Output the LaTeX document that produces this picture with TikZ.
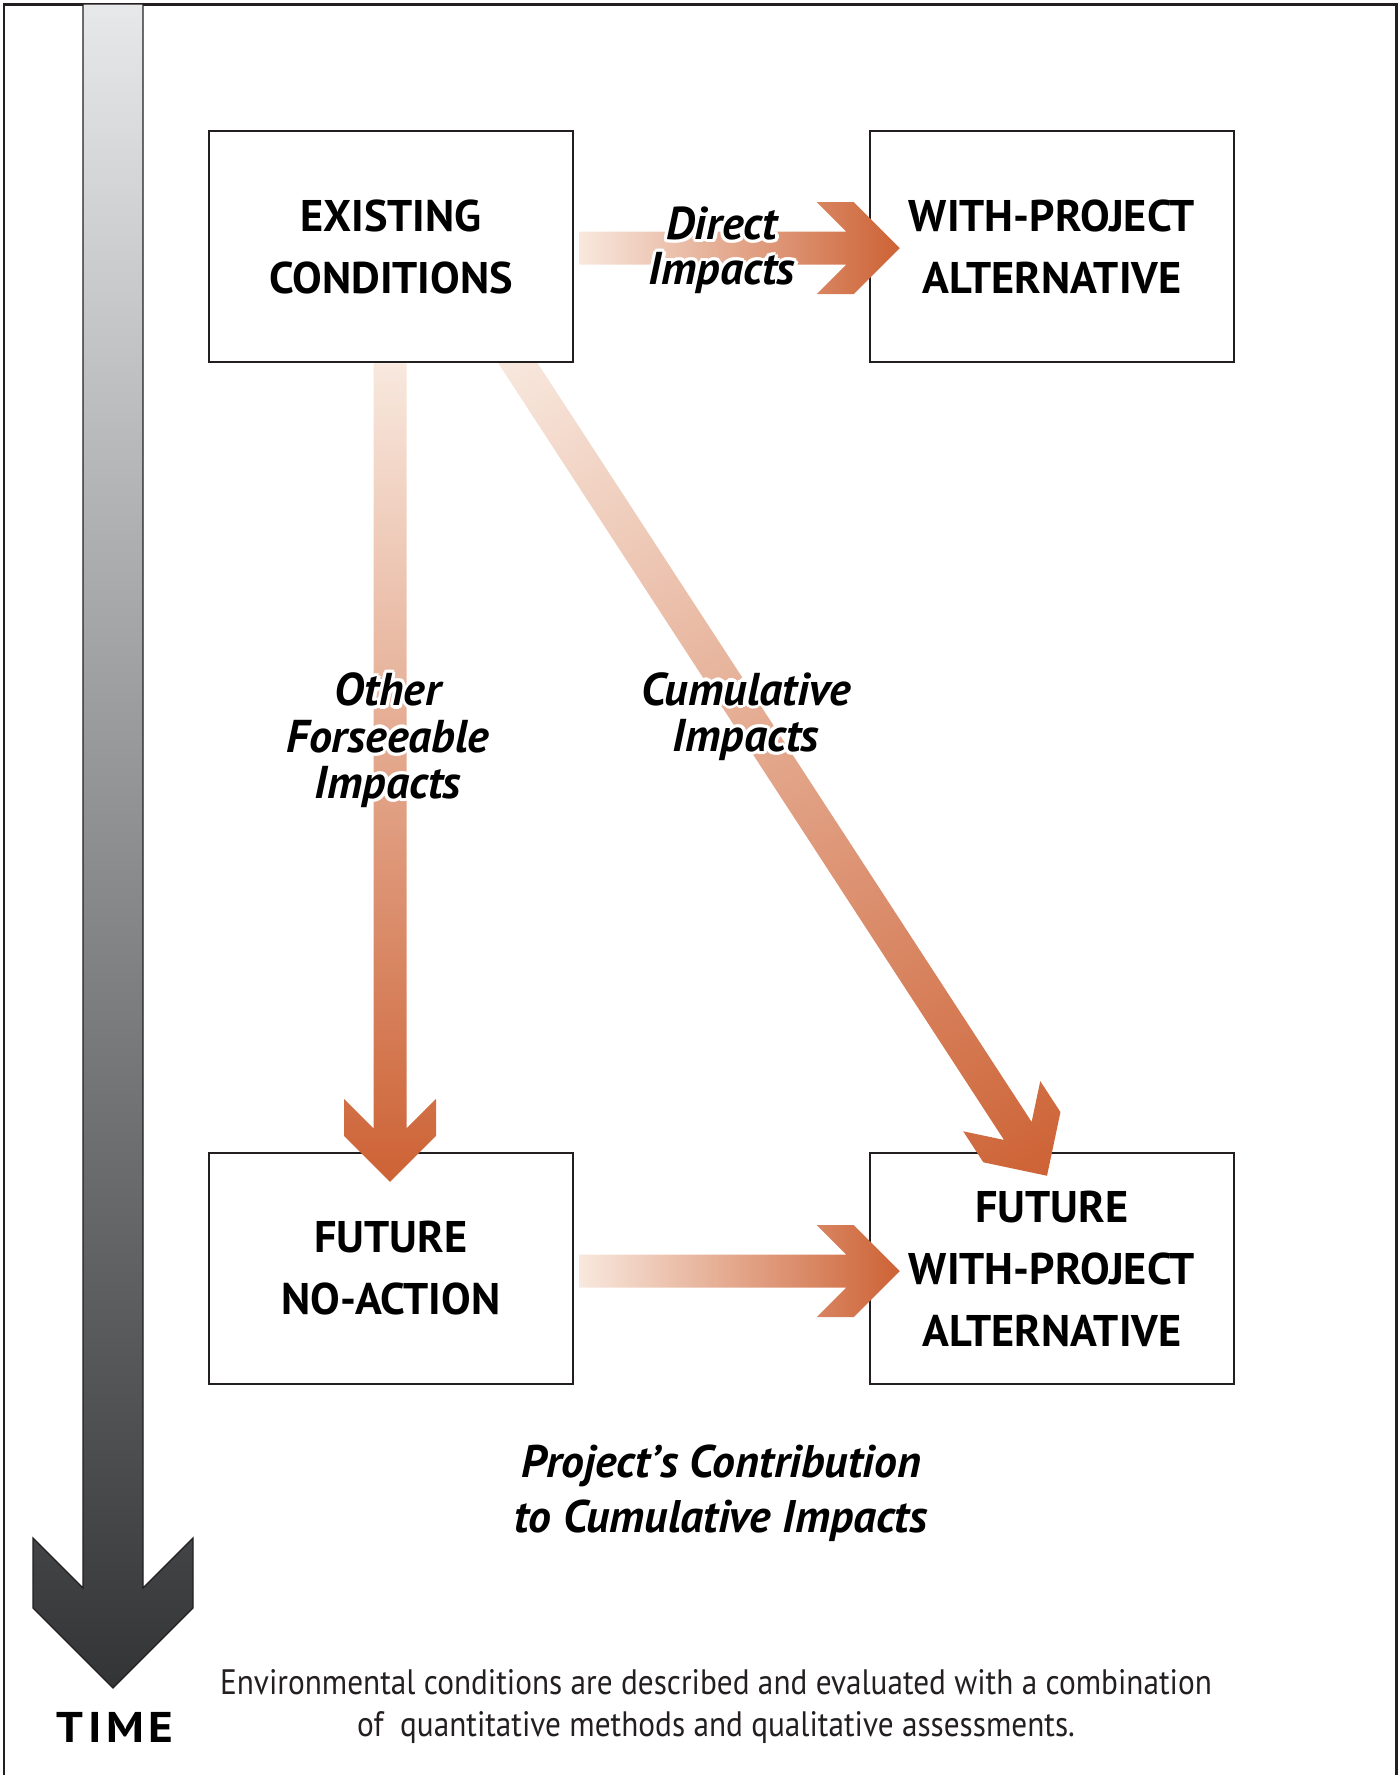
\documentclass[tikz,border=0pt]{standalone}
\usepackage{fontspec}
\setmainfont{PT Sans}
\usepackage[copies]{contour}
\usetikzlibrary{positioning, calc}

\definecolor{inkblack}{HTML}{231F20}
\definecolor{impactpale}{HTML}{F8E8DE}
\definecolor{impactorange}{HTML}{CD6235}
\definecolor{timelight}{HTML}{E6E8EA}
\definecolor{timedark}{HTML}{333436}

\contourlength{1pt}
\contournumber{12}

% fat arrow with a swept-back head, shaded pale -> orange from #1 to #2
\newcommand\impactarrow[2]{%
  \path (#1); \pgfgetlastxy{\ax}{\ay}
  \path (#2); \pgfgetlastxy{\bx}{\by}
  \pgfmathsetmacro\arrang{atan2((\by)-(\ay),(\bx)-(\ax))}
  \pgfmathsetmacro\arrlen{veclen((\bx)-(\ax),(\by)-(\ay))/0.3}
  \begin{scope}[transform canvas={shift={(\ax,\ay)},rotate=\arrang}]
    \shade[left color=impactpale, right color=impactorange]
      (0,-16.5) -- (\arrlen-53.5,-16.5) -- (\arrlen-83,-46) -- (\arrlen-46,-46)
      -- (\arrlen,0) -- (\arrlen-46,46) -- (\arrlen-83,46) -- (\arrlen-53.5,16.5)
      -- (0,16.5) -- cycle;
  \end{scope}}

\begin{document}
\begin{tikzpicture}[x=0.3pt, y=-0.3pt,
    box/.style={draw=inkblack, line width=0.75pt, fill=white,
      minimum width=109.2pt, minimum height=69.3pt, inner sep=0pt,
      align=center, font=\fontsize{13.3}{18.6}\selectfont\bfseries},
    impactlabel/.style={align=center, inner sep=0pt,
      font=\fontsize{13.8}{13.9}\selectfont\bfseries\itshape}]
  \useasboundingbox (0,0) rectangle (1398,1775);

  % frame, open at the bottom
  \draw[inkblack, line width=0.9pt] (4,1775) -- (4,4) -- (1396,4) -- (1396,1775);

  % time axis
  \shade[draw=inkblack, line width=0.4pt, top color=timelight, bottom color=timedark]
    (83,4) -- (83,1588) -- (33,1538) -- (33,1608) -- (113,1688)
    -- (193,1608) -- (193,1538) -- (143,1588) -- (143,4) -- cycle;
  \node[font=\fontsize{12.9}{14}\selectfont\bfseries] (time) at (115,1727)
    {\addfontfeatures{LetterSpace=10}\scalebox{1.1}[1]{TIME}};

  % the four states
  \node[box] (ec) at (391,246.5) {EXISTING\\CONDITIONS};
  \node[box] (wp) at (1052,246.5) {WITH-PROJECT\\ALTERNATIVE};
  \node[box] (na) at (391,1268.5) {FUTURE\\NO-ACTION};
  \node[box] (fw) at (1052,1268.5) {FUTURE\\WITH-PROJECT\\ALTERNATIVE};

  % arrow ends
  \coordinate (d0) at ($(ec.east)+(5,1.5)$);
  \coordinate (d1) at ($(wp.west)+(31,1.5)$);
  \coordinate (o0) at ($(ec.south)+(-1,0)$);
  \coordinate (o1) at ($(na.north)+(-1,30)$);
  \coordinate (c0) at ($(ec.south)+(120.5,-10)$);
  \coordinate (c1) at ($(fw.north)+(-5,24)$);
  \coordinate (f0) at ($(na.east)+(5,2.5)$);
  \coordinate (f1) at ($(fw.west)+(31,2.5)$);

  \impactarrow{d0}{d1}
  \impactarrow{o0}{o1}
  \begin{scope}
    \clip (ec.south west) rectangle (1398,1775);
    \impactarrow{c0}{c1}
  \end{scope}
  \impactarrow{f0}{f1}

  % labels
  \node[impactlabel, font=\fontsize{13.8}{13.6}\selectfont\bfseries\itshape] (direct) at (722,252)
    {\contour{white}{Direct}\\\contour{white}{Impacts}};
  \node[impactlabel] (other) at (388,742)
    {\contour{white}{Other}\\\contour{white}{Forseeable}\\\contour{white}{Impacts}};
  \node[impactlabel] (cumul) at (746,718)
    {\contour{white}{Cumulative}\\\contour{white}{Impacts}};
  \node[impactlabel, font=\fontsize{13.7}{16.6}\selectfont\bfseries\itshape] (contrib) at (721,1493)
    {Project’s Contribution\\to Cumulative Impacts};
  \node[align=center, font=\fontsize{10.6}{12.6}\selectfont, text=inkblack] (note) at (716,1707)
    {\scalebox{0.885}[1]{Environmental conditions are described and evaluated with a combination}\\
     \scalebox{0.885}[1]{of\ \ quantitative methods and qualitative assessments.}};
\end{tikzpicture}
\end{document}
